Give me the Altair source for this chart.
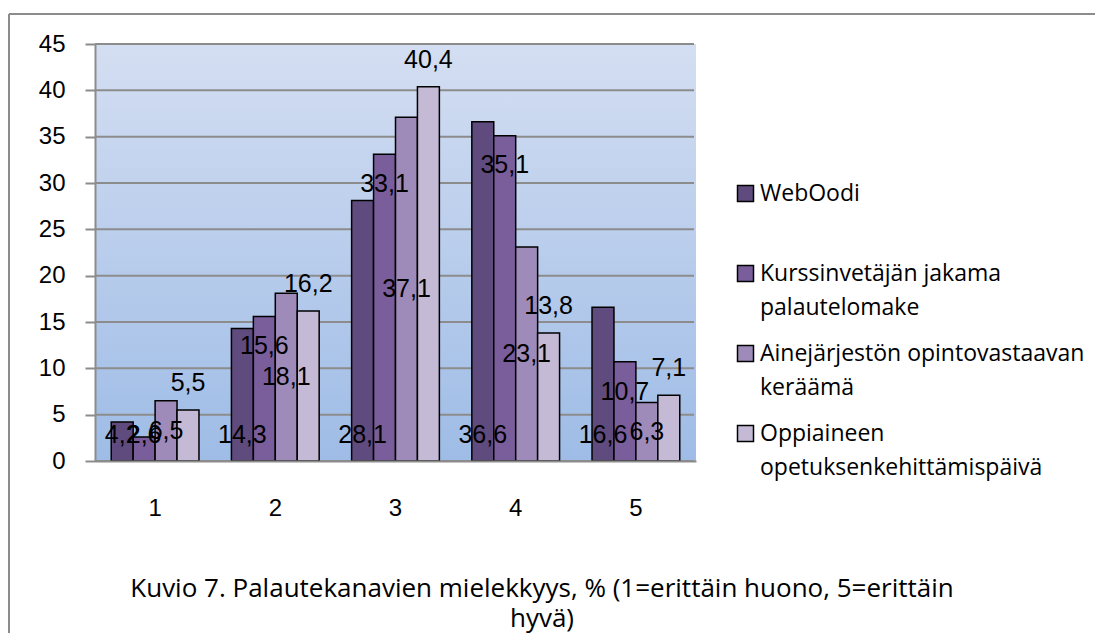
import altair as alt
import pandas as pd

categories = ["1", "2", "3", "4", "5"]
series = [
    "WebOodi",
    "Kurssinvetäjän jakama palautelomake",
    "Ainejärjestön opintovastaavan keräämä",
    "Oppiaineen opetuksenkehittämispäivä",
]
legend_lines = [
    ["WebOodi", ""],
    ["Kurssinvetäjän jakama", "palautelomake"],
    ["Ainejärjestön opintovastaavan", "keräämä"],
    ["Oppiaineen", "opetuksenkehittämispäivä"],
]
webodi = [4.2, 14.3, 28.1, 36.6, 16.6]
kurssi = [2.6, 15.6, 33.1, 35.1, 10.7]
aine = [6.5, 18.1, 37.1, 23.1, 6.3]
oppi = [5.5, 16.2, 40.4, 13.8, 7.1]
y_ticks = [0, 5, 10, 15, 20, 25, 30, 35, 40, 45]
title_lines = [
    "Kuvio 7. Palautekanavien mielekkyys, % (1=erittäin huono, 5=erittäin",
    "hyvä)",
]
colors = ["#5f4b7e", "#7a5e9c", "#9f8bba", "#c5bad6"]

rows = []
for si, vals in enumerate([webodi, kurssi, aine, oppi]):
    for c, v in zip(categories, vals):
        rows.append({"cat": c, "series": series[si], "s": si, "value": v})
df = pd.DataFrame(rows)
grid_df = pd.DataFrame({"t": y_ticks})

def js_list(lst):
    return "[" + ",".join("'" + x + "'" for x in lst) + "]"

label_expr = ""
for name, lines in zip(series, legend_lines):
    label_expr += f"datum.label == '{name}' ? {js_list(lines)} : "
label_expr += "datum.label"

grey = "#8c8c8c"
W, H = 601, 417

x_enc = alt.X(
    "cat:N",
    sort=categories,
    title=None,
    scale=alt.Scale(paddingInner=0.27, paddingOuter=0.135),
    axis=alt.Axis(
        labelAngle=0,
        ticks=False,
        grid=False,
        labelPadding=35,
        labelFont="Liberation Sans",
        labelFontSize=24,
        labelColor="black",
        domainColor=grey,
        domainWidth=2,
        zindex=1,
    ),
)
xoff_enc = alt.XOffset("series:N", sort=series, scale=alt.Scale(paddingInner=0, paddingOuter=0))
y_scale = alt.Scale(domain=[0, 45], nice=False)

background = alt.Chart(alt.Data(values=[{"k": 1}])).mark_rect(
    fill=alt.LinearGradient(
        gradient="linear",
        stops=[
            alt.GradientStop(color="#d4def2", offset=0),
            alt.GradientStop(color="#9ebce6", offset=1),
        ],
        x1=0,
        x2=0,
        y1=0,
        y2=1,
    )
).encode(x=alt.value(0), x2=alt.value(W), y=alt.value(0), y2=alt.value(H))

gridlines = alt.Chart(grid_df).mark_rule(color=grey, strokeWidth=2).encode(
    y=alt.Y("t:Q", scale=y_scale, title=None),
    x=alt.value(0),
    x2=alt.value(W - 2),
)

bars = alt.Chart(df).mark_bar(stroke="black", strokeWidth=1.5).encode(
    x=x_enc,
    xOffset=xoff_enc,
    y=alt.Y(
        "value:Q",
        title=None,
        scale=y_scale,
        axis=alt.Axis(
            values=y_ticks,
            grid=False,
            labelFont="Liberation Sans",
            labelFontSize=24,
            labelColor="black",
            labelPadding=20,
            tickSize=10,
            tickColor=grey,
            tickWidth=2,
            domainColor=grey,
            domainWidth=2,
            zindex=1,
        ),
    ),
    color=alt.Color(
        "series:N",
        sort=series,
        scale=alt.Scale(domain=series, range=colors),
        legend=alt.Legend(
            orient="none",
            legendX=639,
            legendY=138,
            title=None,
            padding=0,
            labelFont="Open Sans",
            labelFontSize=23,
            labelColor="black",
            labelLimit=0,
            labelOffset=3,
            labelExpr=label_expr,
            symbolType="square",
            symbolSize=256,
            symbolStrokeColor="black",
            symbolStrokeWidth=1.5,
            symbolOpacity=1,
            rowPadding=22,
        ),
    ),
)

labels = alt.Chart(df).transform_calculate(
    ly="datum.s == 0 ? 2.8 : datum.s == 1 ? max(datum.value - 3.2, 2.8) : datum.s == 2 ? datum.value / 2 : datum.value + 2.9",
    lab="replace(format(datum.value, '.1f'), '.', ',')",
).mark_text(font="Liberation Sans", fontSize=25, color="black", baseline="middle").encode(
    x=x_enc,
    xOffset=xoff_enc,
    y=alt.Y("ly:Q", scale=y_scale, title=None),
    text="lab:N",
)

caption = alt.Chart(alt.Data(values=[{"k": 1}])).mark_text(
    font="Open Sans", fontSize=26, color="black", align="center", baseline="top", lineHeight=30
).encode(text=alt.value(title_lines), x=alt.value(447), y=alt.value(532))

frame_data = alt.Data(values=[{"k": 1}])
frame_v = alt.Chart(frame_data).mark_rule(color=grey, strokeWidth=2).encode(
    x=alt.value(-86), y=alt.value(-30), y2=alt.value(589)
)
frame_h = alt.Chart(frame_data).mark_rule(color=grey, strokeWidth=2).encode(
    x=alt.value(-86), x2=alt.value(1000), y=alt.value(-30)
)

chart = alt.layer(background, gridlines, bars, labels, caption, frame_v, frame_h).properties(
    width=W,
    height=H,
    autosize=alt.AutoSizeParams(type="none"),
    padding={"left": 87, "top": 36, "right": 399, "bottom": 172},
).configure(
    style={"guide-label": {"lineHeight": 34}}
).configure_view(stroke="transparent")

chart.save("out.html", embed_options={"renderer": "svg", "actions": False})
